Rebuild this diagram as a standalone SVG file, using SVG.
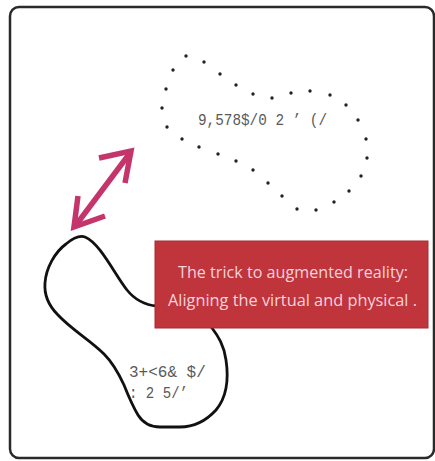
<svg xmlns="http://www.w3.org/2000/svg" width="435" height="461" viewBox="0 0 435 461">
<style>
.frame{fill:none;stroke:#2a2a2a;stroke-width:2.5}
.dot{fill:#222}
.blob{fill:none;stroke:#111;stroke-width:2.8;stroke-linejoin:round}
.glyph{font-family:"Liberation Mono","DejaVu Sans Mono",monospace;fill:#5a5a5a;font-size:16px}
.arrow{fill:none;stroke:#c4356b;stroke-width:5.5;stroke-linecap:butt;stroke-linejoin:miter}
.cap{font-family:"Open Sans","Liberation Sans",sans-serif;fill:#f6d2dc;font-size:16.5px;text-anchor:middle}
</style>
<rect class="frame" x="10" y="7" width="424" height="451" rx="9"/>
<g id="virtual">
<g class="dot">
<circle cx="186" cy="56" r="1.7"/><circle cx="204" cy="62" r="1.7"/><circle cx="220" cy="74" r="1.7"/><circle cx="236" cy="85" r="1.7"/><circle cx="253" cy="94" r="1.7"/><circle cx="272" cy="98" r="1.7"/><circle cx="291" cy="93" r="1.7"/><circle cx="310" cy="91" r="1.7"/><circle cx="330" cy="95" r="1.7"/><circle cx="346" cy="105" r="1.7"/><circle cx="358" cy="120" r="1.7"/><circle cx="366" cy="139" r="1.7"/><circle cx="367" cy="158" r="1.7"/><circle cx="361" cy="176" r="1.7"/><circle cx="349" cy="191" r="1.7"/><circle cx="334" cy="202" r="1.7"/><circle cx="316" cy="210" r="1.7"/><circle cx="297" cy="209" r="1.7"/><circle cx="282" cy="196" r="1.7"/><circle cx="268" cy="183" r="1.7"/><circle cx="253" cy="170" r="1.7"/><circle cx="236" cy="161" r="1.7"/><circle cx="218" cy="154" r="1.7"/><circle cx="199" cy="147" r="1.7"/><circle cx="182" cy="139" r="1.7"/><circle cx="167" cy="127" r="1.7"/><circle cx="162" cy="108" r="1.7"/><circle cx="166" cy="89" r="1.7"/><circle cx="173" cy="70" r="1.7"/>
</g>
<text class="glyph" x="198" y="125" textLength="129" lengthAdjust="spacingAndGlyphs">9,578$/0 2 ’ (/</text>
</g>
<g id="physical">
<path class="blob" d="M85,237 C100,243 115,275 127,290 C135,300 145,305 157,306 C180,308 205,318 212,328 C218,336 224,345 226,360 C229,380 226,398 216,410 C205,422 193,427 180,427 L160,427 C150,427 143,423 138,415 C132,405 128,395 124,385 C118,372 112,362 104,354 C90,340 72,330 58,315 C48,305 44,295 45,283 C46,268 55,252 66,244 C72,239 79,235 85,237 Z"/>
<text class="glyph" x="129" y="377">3+&lt;6&amp; $/</text>
<text class="glyph" x="129" y="398" textLength="59" lengthAdjust="spacingAndGlyphs">: 2 5/’</text>
</g>
<g id="caption">
<rect x="155" y="241" width="273" height="87" fill="#c0343b" stroke="#a82a33" stroke-width="1"/>
<text class="cap" x="293" y="278" textLength="230" lengthAdjust="spacingAndGlyphs">The trick to augmented reality:</text>
<text class="cap" x="292.5" y="306" textLength="249" lengthAdjust="spacingAndGlyphs">Aligning the virtual and physical .</text>
</g>
<g id="connectors">
<path class="arrow" d="M76,225 L130,153"/>
<path class="arrow" d="M99,158 L131,151 L125,183"/>
<path class="arrow" d="M78,196 L74,227 L105,216"/>
</g>
</svg>
